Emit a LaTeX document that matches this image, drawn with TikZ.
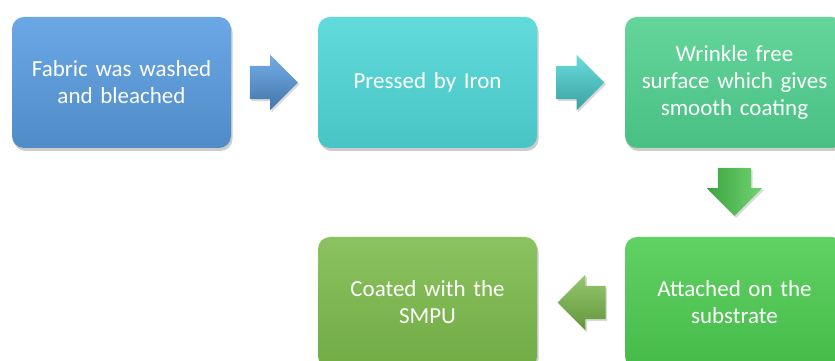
\documentclass[tikz,border=0pt]{standalone}
\usepackage{fontspec}
\setmainfont{Carlito}
\usetikzlibrary{shapes.arrows,shadows,calc}

\definecolor{washblue}{HTML}{5A9EE2}
\definecolor{ironcyan}{HTML}{4FD6D6}
\definecolor{freegreen}{HTML}{4FD08E}
\definecolor{baseGreen}{HTML}{4BCB4F}
\definecolor{coatolive}{HTML}{7BBA4A}

\begin{document}
\begin{tikzpicture}[x=1pt,y=1pt]
    \tikzstyle{stage}=[rectangle,rounded corners=12pt,minimum width=219pt,minimum height=131pt,
        text width=205pt,align=center,text=white,font=\fontsize{23}{27}\selectfont,
        drop shadow={opacity=0.4,shadow xshift=1.5pt,shadow yshift=-3pt}]
    \tikzstyle{block arrow}=[single arrow,minimum height=48pt,
        single arrow head extend=11pt,single arrow head indent=0pt,inner xsep=0pt,inner ysep=16.5pt,
        drop shadow={opacity=0.3,shadow xshift=1.5pt,shadow yshift=-2pt}]

    \useasboundingbox (0,0) rectangle (835,361);
    \clip (0,0) rectangle (835,361);

    % Draw the process stages
    \node[stage, top color=washblue!90!white, bottom color=washblue!88!black] (S-1) at (121.5,278.5) {Fabric was washed\\and bleached};
    \node[stage, top color=ironcyan!90!white, bottom color=ironcyan!92!black] (S-2) at (427.5,278.5) {Pressed by Iron};
    \node[stage, top color=freegreen!88!white, bottom color=freegreen!92!black] (S-3) at (734.5,278.5) {Wrinkle free\\surface which gives\\smooth coating};
    \node[stage, top color=baseGreen!88!white, bottom color=baseGreen!92!black] (S-4) at (734.5,58.5) {Attached on the\\substrate};
    \node[stage, top color=coatolive!88!white, bottom color=coatolive!92!black] (S-5) at (427.5,58.5) {Coated with the\\SMPU};

    % Block arrows between the stages
    \node[block arrow, xshift=-9pt, top color=washblue!85!white, bottom color=washblue!75!black] (A-1) at ($(S-1.east)!0.5!(S-2.west)$) {};
    \node[block arrow, xshift=-9pt, top color=ironcyan!85!white, bottom color=ironcyan!75!black] (A-2) at ($(S-2.east)!0.5!(S-3.west)$) {};
    \node[block arrow, yshift=9pt, shape border rotate=270, inner xsep=16.5pt, inner ysep=0pt,
        left color=baseGreen!80!black, right color=baseGreen!80!white] (A-3) at ($(S-3.south)!0.5!(S-4.north)$) {};
    \node[block arrow, xshift=9pt, shape border rotate=180, top color=coatolive!80!white, bottom color=coatolive!80!black] (A-4) at ($(S-4.west)!0.5!(S-5.east)$) {};
\end{tikzpicture}
\end{document}
